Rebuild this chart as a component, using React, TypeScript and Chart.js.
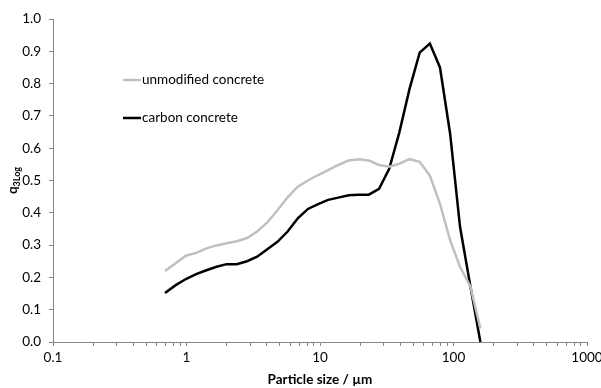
import React, { useEffect, useRef } from "react";
import { Chart, registerables } from "chart.js";

Chart.register(...registerables);

// Particle sizes (µm)
const SIZES = [
  0.69, 0.83, 0.99, 1.18, 1.41, 1.68, 2.0, 2.38, 2.84, 3.38, 4.03, 4.8, 5.72, 6.82, 8.12, 9.68,
  11.5, 13.7, 16.4, 19.5, 23.2, 27.7, 33.0, 39.3, 46.8, 55.8, 66.5, 79.2, 94.4, 112, 134, 159,
];
const UNMODIFIED = [
  0.22, 0.244, 0.267, 0.276, 0.29, 0.299, 0.306, 0.312, 0.322, 0.342, 0.37, 0.408, 0.448, 0.481,
  0.5, 0.517, 0.532, 0.548, 0.562, 0.566, 0.562, 0.548, 0.543, 0.552, 0.566, 0.558, 0.515, 0.428,
  0.315, 0.232, 0.171, 0.042,
];
const CARBON = [
  0.152, 0.176, 0.195, 0.21, 0.222, 0.233, 0.241, 0.241, 0.25, 0.264, 0.287, 0.31, 0.342, 0.383,
  0.412, 0.427, 0.44, 0.447, 0.454, 0.456, 0.456, 0.474, 0.536, 0.649, 0.783, 0.896, 0.924, 0.85,
  0.644, 0.356, 0.171, 0.0,
];
const SERIES_NAMES = ["unmodified concrete", "carbon concrete"];
const SERIES_COLORS = ["#C0C0C0", "#000000"];
const X_MAJOR_TICKS = [0.1, 1, 10, 100, 1000];
const X_MINOR_MULTIPLIERS = [2, 3, 4, 5, 6, 7, 8, 9];
const Y_MIN = 0;
const Y_MAX = 1;
const Y_STEP = 0.1;
const X_TITLE = "Particle size / µm";
const Y_TITLE_MAIN = "q";
const Y_TITLE_SUB = "3Log";

const FONT = "Lato, 'Open Sans', sans-serif";
const AXIS_COLOR = "#868686";

const overlayPlugin = {
  id: "overlay",
  afterDraw(chart: any) {
    const ctx = chart.ctx;
    const area = chart.chartArea;
    ctx.save();
    // X title
    ctx.fillStyle = "#000";
    ctx.font = `bold 13.5px ${FONT}`;
    ctx.textAlign = "center";
    ctx.textBaseline = "middle";
    ctx.fillText(X_TITLE, (area.left + area.right) / 2, 380);

    // Y title (rotated, with subscript)
    ctx.save();
    ctx.translate(15, (area.top + area.bottom) / 2);
    ctx.rotate(-Math.PI / 2);
    ctx.textAlign = "left";
    ctx.textBaseline = "alphabetic";
    ctx.font = `bold 13.5px ${FONT}`;
    const wMain = ctx.measureText(Y_TITLE_MAIN).width;
    ctx.font = `bold 9px ${FONT}`;
    const wSub = ctx.measureText(Y_TITLE_SUB).width;
    const start = -(wMain + wSub) / 2;
    ctx.font = `bold 13.5px ${FONT}`;
    ctx.fillText(Y_TITLE_MAIN, start, 2);
    ctx.font = `bold 9px ${FONT}`;
    ctx.fillText(Y_TITLE_SUB, start + wMain, 5);
    ctx.restore();

    // Legend
    const legendY = [80, 118];
    ctx.font = `13.5px ${FONT}`;
    ctx.textAlign = "left";
    ctx.textBaseline = "middle";
    SERIES_NAMES.forEach((name, i) => {
      ctx.strokeStyle = SERIES_COLORS[i];
      ctx.lineWidth = 2.5;
      ctx.beginPath();
      ctx.moveTo(123, legendY[i]);
      ctx.lineTo(141, legendY[i]);
      ctx.stroke();
      ctx.fillStyle = "#000";
      ctx.fillText(name, 142, legendY[i]);
    });
    ctx.restore();
  },
};

export default function App() {
  const ref = useRef<HTMLCanvasElement>(null);
  useEffect(() => {
    if (!ref.current) return;
    const allTicks: number[] = [];
    X_MAJOR_TICKS.forEach((t, i) => {
      allTicks.push(t);
      if (i < X_MAJOR_TICKS.length - 1) X_MINOR_MULTIPLIERS.forEach((m) => allTicks.push(+(t * m).toPrecision(3)));
    });
    const chart = new Chart(ref.current, {
      type: "line",
      data: {
        datasets: [UNMODIFIED, CARBON].map((vals, i) => ({
          label: SERIES_NAMES[i],
          data: SIZES.map((x, j) => ({ x, y: vals[j] })),
          borderColor: SERIES_COLORS[i],
          backgroundColor: SERIES_COLORS[i],
          borderWidth: 2.5,
          pointRadius: 0,
          tension: 0,
          fill: false,
        })),
      },
      options: {
        responsive: false,
        animation: false,
        events: [],
        layout: { padding: { top: 19, right: 14, left: 0, bottom: 0 } },
        plugins: { legend: { display: false }, tooltip: { enabled: false } },
        scales: {
          x: {
            type: "logarithmic",
            min: 0.1,
            max: 1000,
            afterBuildTicks: (scale: any) => {
              scale.ticks = allTicks.map((v) => ({ value: v, major: X_MAJOR_TICKS.includes(v) }));
            },
            afterFit: (scale: any) => {
              scale.height = 46;
              scale.paddingLeft = 0;
              scale.paddingRight = 0;
            },
            border: { color: AXIS_COLOR, width: 1 },
            grid: { drawOnChartArea: false, drawTicks: true, tickLength: 4, color: AXIS_COLOR },
            ticks: {
              autoSkip: false,
              maxRotation: 0,
              padding: 4,
              color: "#000",
              font: { family: FONT, size: 13.5 },
              callback: (v: any) => (X_MAJOR_TICKS.includes(Number(v)) ? String(v) : ""),
            },
          },
          y: {
            type: "linear",
            min: Y_MIN,
            max: Y_MAX,
            afterFit: (scale: any) => {
              scale.width = 53;
              scale.paddingTop = 0;
              scale.paddingBottom = 0;
            },
            border: { color: AXIS_COLOR, width: 1 },
            grid: { drawOnChartArea: false, drawTicks: true, tickLength: 4, color: AXIS_COLOR },
            ticks: {
              stepSize: Y_STEP,
              padding: 8,
              color: "#000",
              font: { family: FONT, size: 13.5 },
              callback: (v: any) => Number(v).toFixed(1),
            },
          },
        },
      },
      plugins: [overlayPlugin],
    });
    return () => chart.destroy();
  }, []);
  return (
    <div style={{ position: "fixed", left: 0, top: 0, width: 601, height: 388, background: "#fff" }}>
      <canvas ref={ref} width={601} height={388} />
    </div>
  );
}
